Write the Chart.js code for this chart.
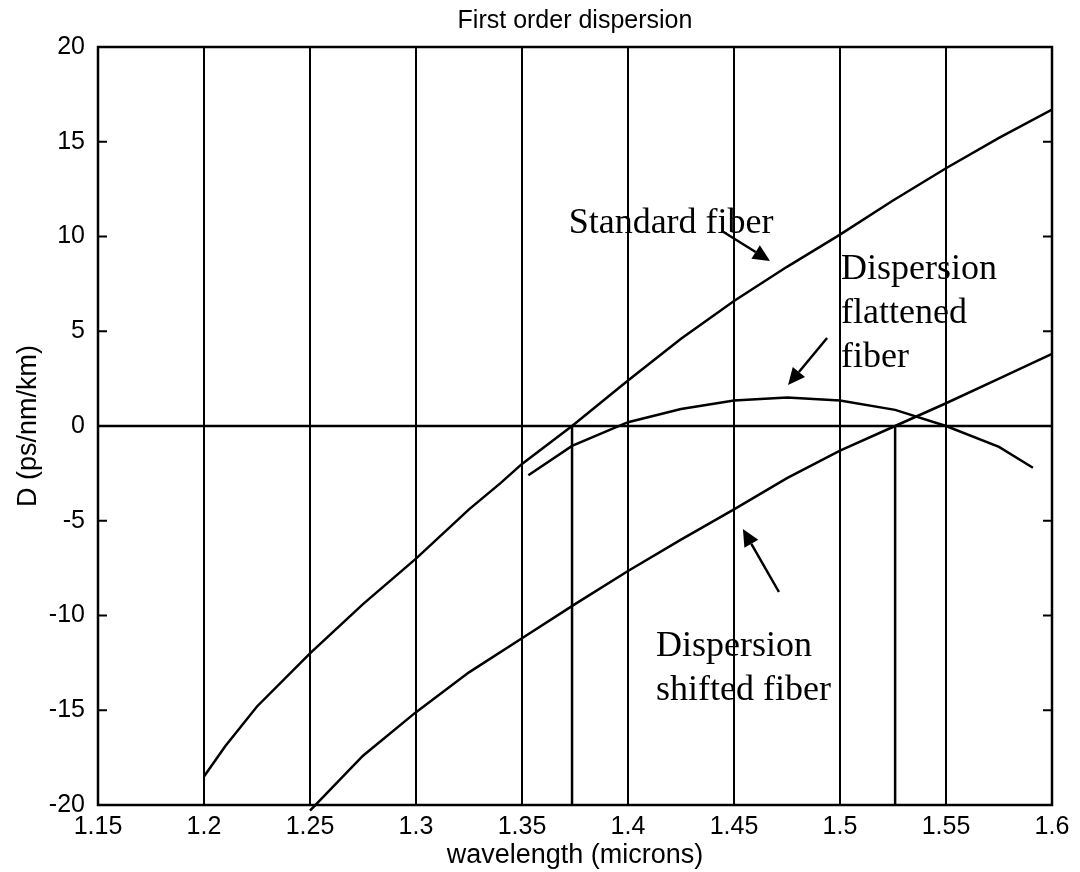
<!DOCTYPE html>
<html lang="en">
<head>
    <meta charset="UTF-8">
    <title>First order dispersion</title>
    <style>
        html, body {
            margin: 0;
            padding: 0;
            background-color: #ffffff;
        }

        #wrap {
            width: 1080px;
            height: 872px;
        }
    </style>
</head>
<body>
    <div id="wrap"><canvas id="chartCanvas"></canvas></div>

    <script src="https://cdn.jsdelivr.net/npm/chart.js@4.4.1/dist/chart.umd.min.js"></script>
    <script>
        // Data
        const xTickLabels = ['1.15', '1.2', '1.25', '1.3', '1.35', '1.4', '1.45', '1.5', '1.55', '1.6'];
        const yTickValues = [-20, -15, -10, -5, 0, 5, 10, 15, 20];

        // Standard fiber
        const standardX = [1.2, 1.21, 1.225, 1.25, 1.275, 1.3, 1.325, 1.34, 1.35, 1.3736, 1.4, 1.425, 1.45, 1.475, 1.5, 1.525, 1.55, 1.575, 1.6];
        const standardD = [-18.5, -16.9, -14.8, -12.0, -9.4, -7.0, -4.4, -3.0, -2.0, 0.0, 2.4, 4.6, 6.6, 8.4, 10.1, 11.9, 13.6, 15.2, 16.7];

        // Dispersion shifted fiber
        const shiftedX = [1.25, 1.275, 1.3, 1.325, 1.35, 1.375, 1.4, 1.425, 1.45, 1.475, 1.5, 1.526, 1.55, 1.575, 1.6];
        const shiftedD = [-20.3, -17.4, -15.1, -13.0, -11.2, -9.4, -7.65, -6.0, -4.4, -2.75, -1.3, 0.0, 1.2, 2.5, 3.8];

        // Dispersion flattened fiber
        const flattenedX = [1.353, 1.3736, 1.4, 1.425, 1.45, 1.475, 1.5, 1.526, 1.55, 1.575, 1.591];
        const flattenedD = [-2.6, -1.05, 0.2, 0.9, 1.35, 1.5, 1.35, 0.85, 0.0, -1.1, -2.2];

        // zero-dispersion wavelengths (vertical markers)
        const zeroX = [1.3736, 1.526];

        // text labels and arrows, in data coordinates
        const noteText = [['Standard fiber'], ['Dispersion', 'flattened', 'fiber'], ['Dispersion', 'shifted fiber']];
        const noteX = [1.372, 1.5005, 1.4132];
        const noteY = [10.18, 7.76, -12.14];
        const arrowFrom = [[1.4443, 10.29], [1.4939, 4.64], [1.4712, -8.76]];
        const arrowTo = [[1.467, 8.71], [1.4755, 2.16], [1.4542, -5.44]];

        function pts(xs, ys) {
            return xs.map((x, i) => ({ x: x, y: ys[i] }));
        }

        function lineSet(data) {
            return {
                data: data,
                borderColor: '#000',
                borderWidth: 2.5,
                pointRadius: 0,
                tension: 0,
                fill: false
            };
        }

        const shifted = lineSet(pts(shiftedX, shiftedD));
        shifted.clip = 8;   // the curve runs a little past the bottom axis

        const datasets = [
            lineSet(pts(standardX, standardD)),
            shifted,
            lineSet(pts(flattenedX, flattenedD)),
            lineSet([{ x: 1.15, y: 0 }, { x: 1.6, y: 0 }])
        ];
        zeroX.forEach(x => datasets.push(lineSet([{ x: x, y: 0 }, { x: x, y: -20 }])));

        // frame, inward ticks, annotations
        const extras = {
            id: 'extras',
            afterDatasetsDraw(chart) {
                const ctx = chart.ctx;
                const a = chart.chartArea;
                const xs = chart.scales.x;
                const ys = chart.scales.y;
                ctx.save();
                ctx.strokeStyle = '#000';
                ctx.lineWidth = 2.5;
                ctx.strokeRect(a.left, a.top, a.right - a.left, a.bottom - a.top);

                ctx.lineWidth = 2;
                yTickValues.forEach(v => {
                    const py = ys.getPixelForValue(v);
                    ctx.beginPath();
                    ctx.moveTo(a.left, py);
                    ctx.lineTo(a.left + 9, py);
                    ctx.moveTo(a.right, py);
                    ctx.lineTo(a.right - 9, py);
                    ctx.stroke();
                });

                ctx.fillStyle = '#000';
                ctx.font = '36px "Liberation Serif", "Times New Roman", serif';
                ctx.textBaseline = 'alphabetic';
                ctx.textAlign = 'left';
                noteText.forEach((lines, i) => {
                    const px = xs.getPixelForValue(noteX[i]);
                    const py = ys.getPixelForValue(noteY[i]);
                    lines.forEach((t, j) => ctx.fillText(t, px, py + j * 44));
                });

                ctx.lineWidth = 2.5;
                arrowFrom.forEach((f, i) => {
                    const x0 = xs.getPixelForValue(f[0]);
                    const y0 = ys.getPixelForValue(f[1]);
                    const x1 = xs.getPixelForValue(arrowTo[i][0]);
                    const y1 = ys.getPixelForValue(arrowTo[i][1]);
                    const ang = Math.atan2(y1 - y0, x1 - x0);
                    const hl = 17, hw = 8;
                    const bx = x1 - hl * Math.cos(ang);
                    const by = y1 - hl * Math.sin(ang);
                    ctx.beginPath();
                    ctx.moveTo(x0, y0);
                    ctx.lineTo(bx, by);
                    ctx.stroke();
                    ctx.beginPath();
                    ctx.moveTo(x1, y1);
                    ctx.lineTo(bx + hw * Math.sin(ang), by - hw * Math.cos(ang));
                    ctx.lineTo(bx - hw * Math.sin(ang), by + hw * Math.cos(ang));
                    ctx.closePath();
                    ctx.fill();
                });
                ctx.restore();
            }
        };

        const sans = '"Liberation Sans", Arial, sans-serif';
        const tickFont = { family: sans, size: 25 };

        new Chart(document.getElementById('chartCanvas'), {
            type: 'line',
            data: { datasets: datasets },
            options: {
                responsive: true,
                maintainAspectRatio: false,
                animation: false,
                layout: { padding: { left: 0, right: 28, top: 0, bottom: 0 } },
                plugins: {
                    legend: { display: false },
                    tooltip: { enabled: false },
                    title: {
                        display: true,
                        fullSize: false,
                        text: 'First order dispersion',
                        color: '#000',
                        font: { family: sans, size: 25, weight: 'normal' },
                        padding: { top: 6, bottom: 11 }
                    }
                },
                scales: {
                    x: {
                        type: 'linear',
                        min: 1.15,
                        max: 1.6,
                        afterFit(scale) { scale.height = 67; },
                        afterBuildTicks(scale) {
                            scale.ticks = xTickLabels.map(t => ({ value: parseFloat(t) }));
                        },
                        ticks: {
                            color: '#000',
                            font: tickFont,
                            padding: 7,
                            maxRotation: 0,
                            autoSkip: false,
                            callback: (v, i) => xTickLabels[i]
                        },
                        grid: { color: '#000', lineWidth: 2, drawTicks: false },
                        border: { display: false },
                        title: {
                            display: true,
                            text: 'wavelength (microns)',
                            color: '#000',
                            font: { family: sans, size: 27 },
                            padding: { top: 0, bottom: 0 }
                        }
                    },
                    y: {
                        type: 'linear',
                        min: -20,
                        max: 20,
                        afterFit(scale) { scale.width = 98; },
                        afterBuildTicks(scale) {
                            scale.ticks = yTickValues.map(v => ({ value: v }));
                        },
                        ticks: { color: '#000', font: tickFont, padding: 5 },
                        grid: { display: false },
                        border: { display: false },
                        title: {
                            display: true,
                            text: 'D (ps/nm/km)',
                            color: '#000',
                            font: { family: sans, size: 27 },
                            padding: { top: 12, bottom: 0 }
                        }
                    }
                }
            },
            plugins: [extras]
        });
    </script>
</body>
</html>
